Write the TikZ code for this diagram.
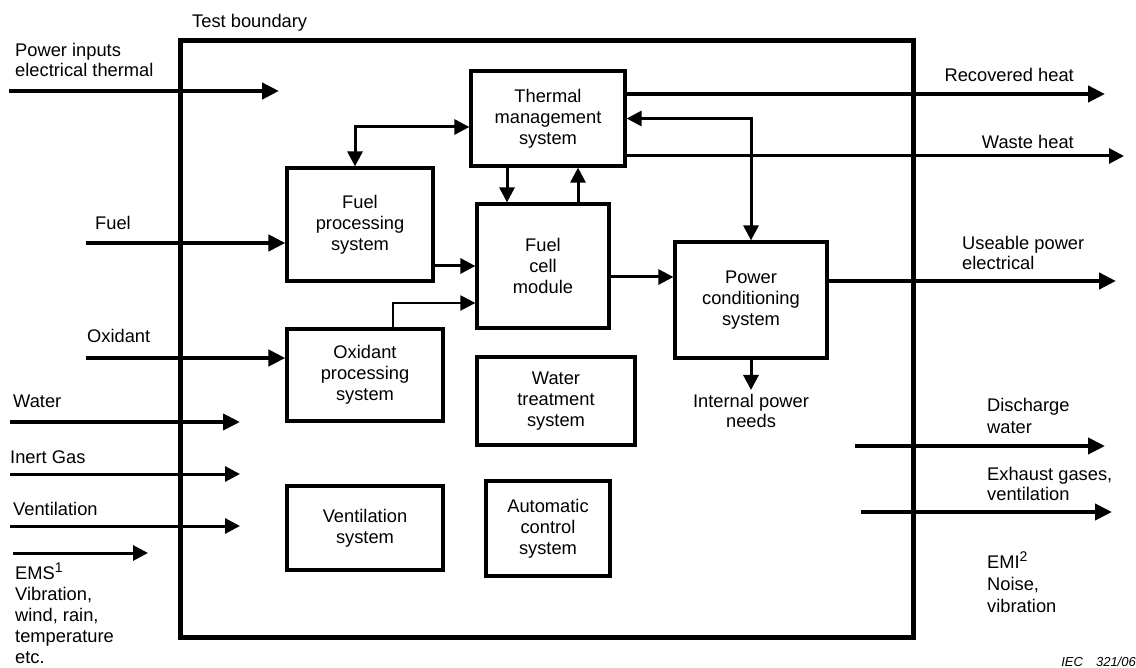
\documentclass[tikz,border=0pt]{standalone}
\usepackage{fontspec}
\setmainfont{Liberation Sans}
\usetikzlibrary{arrows.meta,positioning}
\tikzset{>={Triangle[length=15pt,width=15pt]},shorten >=0pt}
\tikzset{
  sysbox/.style={draw,line width=3.2pt,align=center,inner sep=0pt},
  flow/.style={->,line width=3pt},
  thinflow/.style={->,line width=2pt},
  bigflow/.style={-{Triangle[length=17pt,width=16pt]},line width=4.5pt},
  lbl/.style={align=left,inner sep=0pt}
}
\newcommand{\fnmark}[1]{\raisebox{7pt}{\fontsize{14}{14}\selectfont #1}}

\begin{document}
\begin{tikzpicture}[x=1pt,y=-1pt,font=\fontsize{18.3}{21}\selectfont]
\useasboundingbox (0,0) rectangle (1136,668);
\draw[line width=5pt] (180,41) rectangle (913,637);
\node[lbl,anchor=base west] (tb) at (192,28) {Test boundary};

\node[sysbox,minimum width=154pt,minimum height=95pt] (tms) at (548,118.5) {Thermal\\management\\system};
\node[sysbox,minimum width=146pt,minimum height=113pt] (fps) at (360,224.5) {Fuel\\processing\\system};
\node[sysbox,minimum width=132pt,minimum height=124pt] (fcm) at (543,266) {Fuel\\cell\\module};
\node[sysbox,minimum width=156pt,minimum height=92pt] (ops) at (365,375) {Oxidant\\processing\\system};
\node[sysbox,minimum width=152pt,minimum height=116pt] (pcs) at (751,300) {Power\\conditioning\\system};
\node[sysbox,minimum width=158pt,minimum height=88pt] (wts) at (556,401) {Water\\treatment\\system};
\node[sysbox,minimum width=156pt,minimum height=84pt] (vts) at (365,528) {Ventilation\\system};
\node[sysbox,minimum width=124pt,minimum height=95pt] (acs) at (548,528.5) {Automatic\\control\\system};

% multi-line labels sit on the baseline of their last line
\node[lbl,anchor=base west,font=\fontsize{18.3}{20}\selectfont] (pin) at (15,77) {Power inputs\\electrical thermal};
\node[lbl,anchor=base west] (fuel) at (95,230) {Fuel};
\node[lbl,anchor=base west] (oxi) at (87,343) {Oxidant};
\node[lbl,anchor=base west] (wat) at (13,408) {Water};
\node[lbl,anchor=base west] (ing) at (10,463) {Inert Gas};
\node[lbl,anchor=base west] (ven) at (13,515) {Ventilation};
\node[lbl,anchor=base west] (ems) at (15,663) {EMS\fnmark{1}\\Vibration,\\wind, rain,\\temperature\\etc.};
\node[lbl,anchor=base east] (rec) at (1074,82) {Recovered heat};
\node[lbl,anchor=base east] (wst) at (1074,149) {Waste heat};
\node[lbl,anchor=base west,font=\fontsize{18.3}{20}\selectfont] (use) at (962,270) {Useable power\\electrical};
\node[lbl,anchor=north,align=center,font=\fontsize{18.3}{20}\selectfont] (ipn) at (751,394) {Internal power\\needs};
\node[lbl,anchor=base west] (dis) at (987,433) {Discharge\\water};
\node[lbl,anchor=base west,font=\fontsize{18.3}{20}\selectfont] (exh) at (987,500) {Exhaust gases,\\ventilation};
\node[lbl,anchor=base west,font=\fontsize{18.3}{22}\selectfont] (emi) at (987,612) {EMI\fnmark{2}\\Noise,\\vibration};
\node[anchor=base east,inner sep=0pt,font=\fontsize{13}{15}\selectfont\itshape] (iec) at (1136,666) {IEC\quad 321/06};

\coordinate (pinA) at (9,91);    \coordinate (pinB) at (279,91);
\coordinate (fuelA) at (86,243);
\coordinate (oxiA) at (86,358);
\coordinate (watA) at (10,422);  \coordinate (watB) at (240,422);
\coordinate (ingA) at (10,474);  \coordinate (ingB) at (240,474);
\coordinate (venA) at (10,526);  \coordinate (venB) at (240,526);
\coordinate (emsA) at (13,553);  \coordinate (emsB) at (148,553);
\coordinate (recB) at (1105,94);
\coordinate (wstB) at (1124,156);
\coordinate (useB) at (1116,281);
\coordinate (disA) at (855,446); \coordinate (disB) at (1105,446);
\coordinate (exhA) at (861,512); \coordinate (exhB) at (1112,512);
\coordinate (tap) at (393,303);
\coordinate (fcy) at (0,266);
\coordinate (pcy) at (0,277);
\coordinate (dn) at ([xshift=-36pt]fcm.north);
\coordinate (up) at ([xshift=35pt]fcm.north);
\coordinate (lp) at ([xshift=-5pt]fps.north);

\path[bigflow]
  (pinA) edge (pinB)
  (fuelA) edge (fuelA -| fps.west)
  (oxiA) edge (oxiA -| ops.west)
  (watA) edge[line width=4pt] (watB)
  (tms.east |- recB) edge (recB)
  (pcs.east |- useB) edge (useB)
  (disA) edge[line width=4pt] (disB)
  (exhA) edge[line width=4pt] (exhB);
\path[flow]
  (ingA) edge (ingB)
  (venA) edge (venB)
  (emsA) edge (emsB)
  (tms.east |- wstB) edge (wstB)
  (dn |- tms.south) edge (dn)
  (up) edge (up |- tms.south)
  (fps.east |- fcy) edge (fcm.west |- fcy)
  (fcm.east |- pcy) edge (pcs.west |- pcy)
  (pcs.south) edge ([yshift=4pt]ipn.north);
\draw[flow,<->] (lp) |- ([yshift=-8.5pt]tms.west);
\draw[flow,<->] (tms.east) -| (pcs.north);
\draw[thinflow] (ops.north -| tap) |- (fcm.west |- tap);
\end{tikzpicture}
\end{document}
